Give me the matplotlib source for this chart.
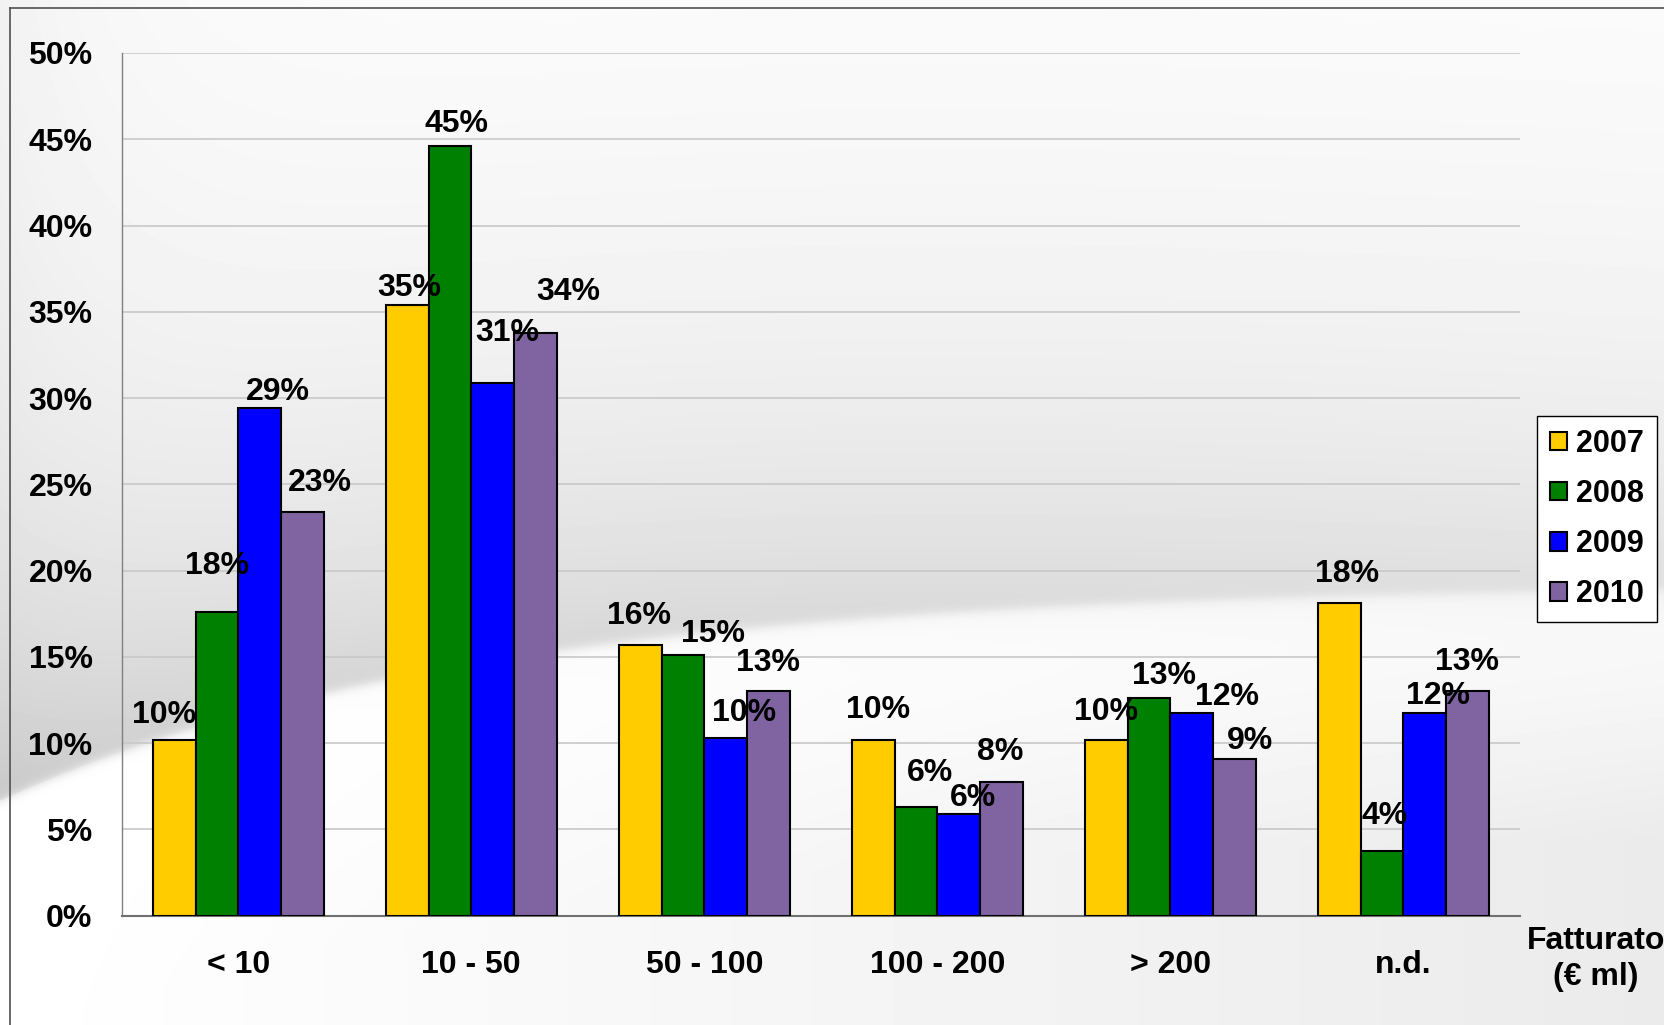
import numpy as np
import matplotlib.pyplot as plt
from matplotlib.patches import Patch
from matplotlib.lines import Line2D

plt.rcParams['font.family'] = ['Liberation Sans', 'DejaVu Sans']
plt.rcParams['font.weight'] = 'bold'

# revenue classes (€ ml) and share of companies per year, in percent
categories = ['< 10', '10 - 50', '50 - 100', '100 - 200', '> 200', 'n.d.']
years = ['2007', '2008', '2009', '2010']
share_2007 = [10.2, 35.4, 15.7, 10.2, 10.2, 18.1]
share_2008 = [17.6, 44.6, 15.1, 6.3, 12.6, 3.75]
share_2009 = [29.4, 30.9, 10.3, 5.9, 11.75, 11.75]
share_2010 = [23.4, 33.8, 13.0, 7.75, 9.1, 13.0]
series = [share_2007, share_2008, share_2009, share_2010]

colors = ['#ffcc00', '#008000', '#0000ff', '#8064a2']

# hand-placed label offsets (pixels) relative to each bar top
label_dx = [[-10, 2, -1, 5, 0, 8],
            [0, 7, 30, 14, 15, 2],
            [18, 15, 18, 14, 35, 13],
            [18, 33, 0, -1, 16, 0]]
label_dy = [[25, 17, 29, 30, 28, 29],
            [46, 22, 21, 34, 22, 35],
            [16, 50, 25, 16, 16, 17],
            [29, 41, 28, 30, 18, 29]]

FS = 23

W, H = 1664, 1025
fig = plt.figure(figsize=(W / 100, H / 100), dpi=100)

# soft grey slide background with a swoosh on the left
xx, yy = np.meshgrid(np.arange(W), np.arange(H))
edge = 582 + 218 * np.exp(-xx / 480.0)
strength = np.clip(0.175 - 0.00003 * xx, 0.08, None)
g_above = strength * np.exp(-(edge - yy) / 300.0)
g_below = 0.08 * xx / W * np.clip((yy - edge) / 250.0, 0, 1) \
    + 0.05 * np.exp(-(yy - edge) / 40.0) * (xx / W)
blend = 0.5 * (1 + np.tanh((yy - edge) / 6.0))
g = (1 - blend) * g_above + blend * np.clip(g_below, 0, 0.1)
g += 0.04 * np.exp(-xx / 120.0) * (yy < edge)
bg = np.clip(1 - g, 0, 1)
bg_ax = fig.add_axes([0, 0, 1, 1], zorder=-10)
bg_ax.imshow(bg, cmap='gray', vmin=0, vmax=1, aspect='auto',
             interpolation='bilinear')
bg_ax.axis('off')

# slide frame
fig.add_artist(Line2D([10 / W, 10 / W], [0, 1 - 8 / H], color='#505050',
                      lw=1.2, transform=fig.transFigure))
fig.add_artist(Line2D([10 / W, 1], [1 - 8 / H, 1 - 8 / H], color='#505050',
                      lw=1.2, transform=fig.transFigure))

left, right, top, bottom = 121.7, 1520, 53, 915.7
ax = fig.add_axes([left / W, (H - bottom) / H, (right - left) / W,
                   (bottom - top) / H])
ax.patch.set_alpha(0)

x = np.arange(len(categories))
w = 0.183
for j, (vals, col) in enumerate(zip(series, colors)):
    xs = x + (j - 1.5) * w
    ax.bar(xs, vals, w, color=col, edgecolor='black', linewidth=1.5,
           zorder=3)
    for k, v in enumerate(vals):
        ax.annotate(f'{v:.0f}%', (xs[k], v),
                    xytext=(label_dx[j][k], label_dy[j][k]),
                    textcoords='offset pixels', ha='center', va='center',
                    fontsize=FS, fontweight='bold', zorder=5)

ax.set_xlim(-0.5, 5.5)
ax.set_ylim(0, 50)
ax.set_yticks(np.arange(0, 51, 5))
ax.set_yticklabels([f'{t}%' for t in range(0, 51, 5)])
ax.set_xticks(x)
ax.set_xticklabels(categories)
ax.tick_params(axis='y', length=0, pad=21, labelsize=FS)
ax.tick_params(axis='x', length=0, pad=25, labelsize=FS)
ax.grid(axis='y', color='#c8c8c8', linewidth=1.2, zorder=0)
ax.set_axisbelow(True)
for s in ['top', 'right']:
    ax.spines[s].set_visible(False)
ax.spines['left'].set_color('#808080')
ax.spines['left'].set_linewidth(1.0)
ax.spines['bottom'].set_color('#707070')
ax.spines['bottom'].set_linewidth(1.5)

fig.text(1596 / W, 1 - 941 / H, 'Fatturato', ha='center', va='center',
         fontsize=FS, fontweight='bold')
fig.text(1596 / W, 1 - 977 / H, '(€ ml)', ha='center', va='center',
         fontsize=FS, fontweight='bold')

handles = [Patch(facecolor=c, edgecolor='black', linewidth=1.5)
           for c in colors]
leg = fig.legend(handles, years, loc='upper left',
                 bbox_to_anchor=(1537 / W, 1 - 416 / H),
                 bbox_transform=fig.transFigure, borderaxespad=0,
                 fontsize=22, handlelength=0.55, handleheight=0.55,
                 handletextpad=0.3, labelspacing=0.66, borderpad=0.42,
                 fancybox=False, framealpha=1, edgecolor='black')
leg.get_frame().set_linewidth(1.0)
for t in leg.get_texts():
    t.set_fontweight('bold')

fig.savefig('out.png', dpi=100)
